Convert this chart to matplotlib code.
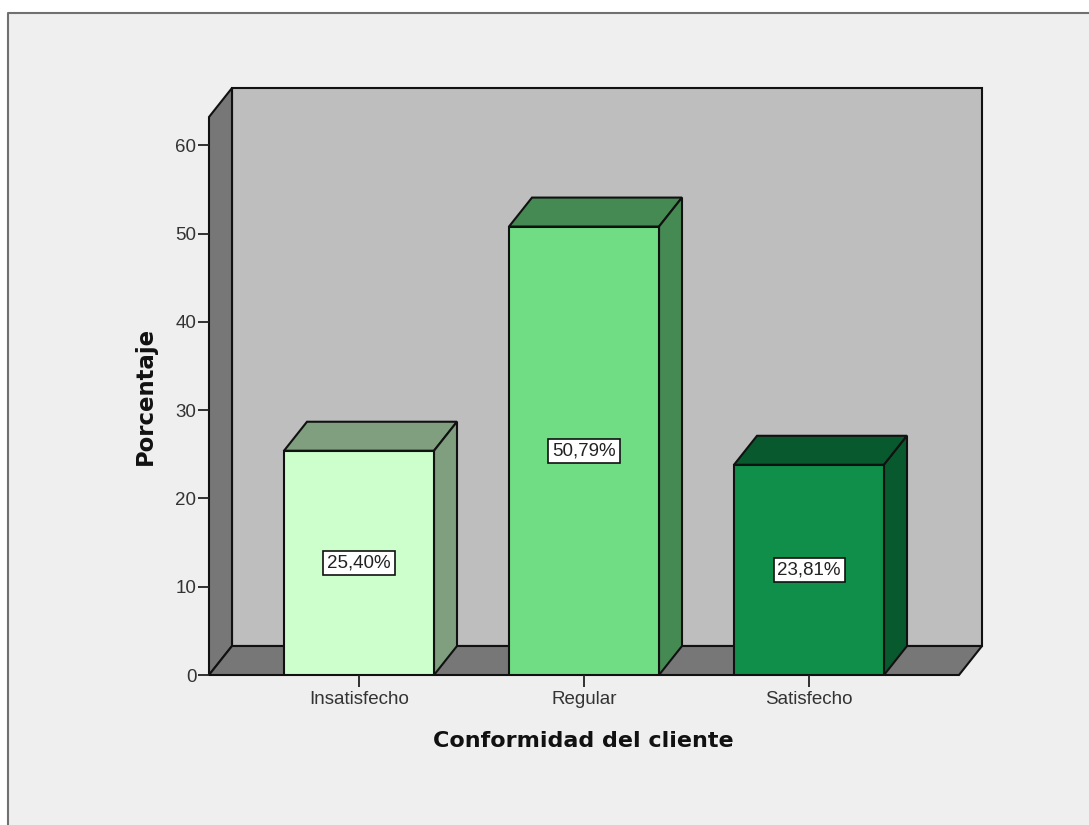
import matplotlib
matplotlib.use("Agg")
import matplotlib.pyplot as plt
from matplotlib.patches import Polygon, Rectangle

categories = ["Insatisfecho", "Regular", "Satisfecho"]
values = [25.40, 50.79, 23.81]
labels = ["25,40%", "50,79%", "23,81%"]
front_colors = ["#CCFFCC", "#70DD85", "#0F8F4A"]
top_colors = ["#7F9F7F", "#468A53", "#09592E"]
side_colors = ["#7F9F7F", "#468A53", "#09592E"]
yticks = [0, 10, 20, 30, 40, 50, 60]

W, H = 1089, 825
plt.rcParams["font.family"] = ["Liberation Sans", "DejaVu Sans"]
fig = plt.figure(figsize=(W / 100, H / 100), dpi=100, facecolor="white")

# panel background with grey border on top and left
fig.add_artist(Rectangle((8 / W, 0), 1 - 8 / W, 1 - 13 / H, transform=fig.transFigure,
                         facecolor="#EFEFEF", edgecolor="none", zorder=-2))
fig.add_artist(plt.Line2D([8 / W, 8 / W, 1], [0, 1 - 13 / H, 1 - 13 / H], color="#707070", lw=1.5, zorder=-1))

# axes = front plane of the 3D box
L, R, B, T = 209, 959, 675, 117
ax = fig.add_axes([L / W, 1 - B / H, (R - L) / W, (B - T) / H], facecolor="none")
ax.set_xlim(-2 / 3, 8 / 3)
ax.set_ylim(0, 63.2)
for s in ax.spines.values():
    s.set_visible(False)

dx = 23 * (ax.get_xlim()[1] - ax.get_xlim()[0]) / (R - L)
dy = 29 * ax.get_ylim()[1] / (B - T)
x0, x1 = ax.get_xlim()
y0, y1 = ax.get_ylim()
ec = "#111111"
lw = 1.5


def poly(points, fc, z):
    ax.add_patch(Polygon(points, closed=True, facecolor=fc, edgecolor=ec, linewidth=lw,
                         zorder=z, clip_on=False, joinstyle="miter"))


# back wall, left wall, floor
poly([(x0 + dx, y0 + dy), (x1 + dx, y0 + dy), (x1 + dx, y1 + dy), (x0 + dx, y1 + dy)], "#BEBEBE", 1)
poly([(x0, y0), (x0 + dx, y0 + dy), (x0 + dx, y1 + dy), (x0, y1)], "#777777", 1.1)
poly([(x0, y0), (x1, y0), (x1 + dx, y0 + dy), (x0 + dx, y0 + dy)], "#777777", 1.1)

# bars
width = 2 / 3
positions = list(range(len(categories)))
ax.bar(positions, values, width=width, color=front_colors, edgecolor=ec, linewidth=lw, zorder=3)
for p, v, tc, sc in zip(positions, values, top_colors, side_colors):
    a, b = p - width / 2, p + width / 2
    poly([(a, v), (b, v), (b + dx, v + dy), (a + dx, v + dy)], tc, 2.5)
    poly([(b, 0), (b + dx, dy), (b + dx, v + dy), (b, v)], sc, 2.5)

# value labels
for p, v, t in zip(positions, values, labels):
    ax.text(p, v / 2, t, ha="center", va="center", fontsize=13.5, color="#222222", zorder=5,
            bbox=dict(boxstyle="square,pad=0.2", facecolor="white", edgecolor="#111111", linewidth=1.2))

ax.set_xticks(positions)
ax.set_xticklabels(categories, fontsize=13.5, color="#333333")
ax.set_yticks(yticks)
ax.set_yticklabels([str(v) for v in yticks], fontsize=13.5, color="#333333")
ax.tick_params(axis="x", length=8.5, width=1.3, color="#222222", pad=3)
ax.tick_params(axis="y", length=8, width=1.3, color="#222222", pad=1)

fig.text(583 / W, 1 - 741 / H, "Conformidad del cliente", ha="center", va="center",
         fontsize=16, fontweight="bold", color="#111111", family="DejaVu Sans")
fig.text(145 / W, 1 - 396 / H, "Porcentaje", ha="center", va="center", rotation=90,
         fontsize=16.4, fontweight="bold", color="#111111", family="DejaVu Sans")

fig.savefig("out.png", dpi=100, facecolor=fig.get_facecolor())
